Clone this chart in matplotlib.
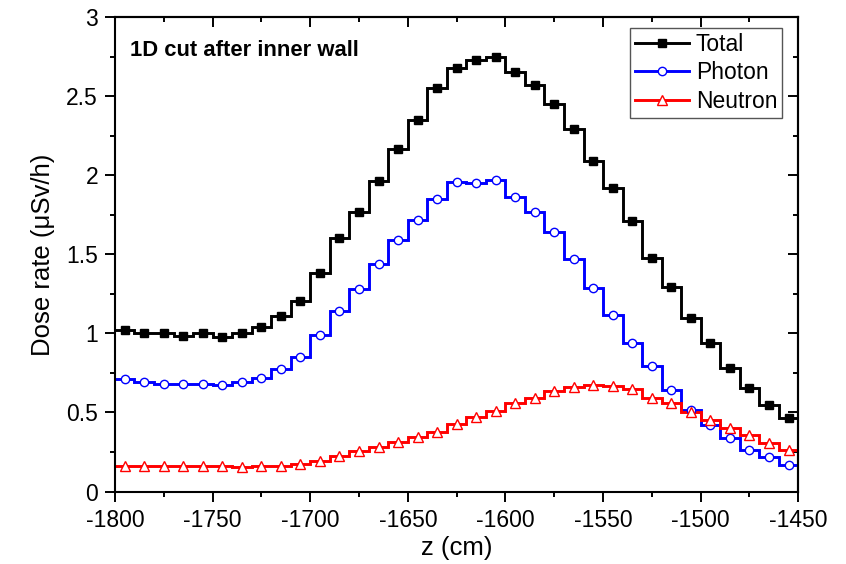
import numpy as np
import matplotlib.pyplot as plt

plt.rcParams['font.family'] = ['Liberation Sans', 'DejaVu Sans']
plt.rcParams['axes.unicode_minus'] = False

# 10 cm bins along z
edges = np.arange(-1800, -1449, 10)
centers = edges[:-1] + 5

total = [1.019, 1.000, 1.000, 0.987, 1.000, 0.977, 1.000, 1.040, 1.112, 1.205,
         1.380, 1.602, 1.767, 1.966, 2.167, 2.348, 2.553, 2.678, 2.731, 2.752,
         2.657, 2.570, 2.454, 2.293, 2.093, 1.923, 1.712, 1.479, 1.294, 1.095,
         0.941, 0.782, 0.655, 0.550, 0.465]
photon = [0.714, 0.693, 0.683, 0.683, 0.683, 0.676, 0.695, 0.719, 0.774, 0.852,
          0.993, 1.141, 1.279, 1.437, 1.592, 1.716, 1.852, 1.955, 1.953, 1.972,
          1.866, 1.767, 1.644, 1.473, 1.289, 1.116, 0.941, 0.793, 0.645, 0.518,
          0.423, 0.338, 0.260, 0.218, 0.165]
neutron = [0.160, 0.160, 0.160, 0.160, 0.160, 0.160, 0.157, 0.160, 0.160, 0.174,
           0.195, 0.222, 0.254, 0.279, 0.313, 0.342, 0.376, 0.427, 0.469, 0.507,
           0.560, 0.592, 0.638, 0.659, 0.676, 0.666, 0.649, 0.592, 0.560, 0.503,
           0.455, 0.402, 0.359, 0.306, 0.264]

series = [
    ('Total', total, 'black', dict(marker='s', mfc='black', mec='black', ms=5.5)),
    ('Photon', photon, 'blue', dict(marker='o', mfc='white', mec='blue', ms=6, mew=1)),
    ('Neutron', neutron, 'red', dict(marker='^', mfc='white', mec='red', ms=6.5, mew=1)),
]

fig = plt.figure(figsize=(8.46, 5.64), dpi=100)
ax = fig.add_axes([0.1359, 0.1285, 0.8077, 0.8408])

for name, vals, col, mk in series:
    ax.stairs(vals, edges, color=col, lw=2.1, baseline=None, zorder=2)
    ax.plot(centers, vals, ls='none', zorder=3, **mk)
    # legend proxy: line with a marker in the middle
    ax.plot([], [], color=col, lw=2.1, label=name, **mk)

xmaj = np.arange(-1800, -1449, 50)
xmin = np.arange(-1800, -1449, 25)
ymaj = [0, 0.5, 1, 1.5, 2, 2.5, 3]
ymin = np.arange(0, 3.01, 0.25)

ax.set_xlim(-1800, -1450)
ax.set_ylim(0, 3)
ax.set_xticks(xmaj)
ax.set_xticks(xmin, minor=True)
ax.set_yticks(ymaj)
ax.set_yticklabels(['0', '0.5', '1', '1.5', '2', '2.5', '3'])
ax.set_yticks(ymin, minor=True)
ax.tick_params(which='both', direction='out', width=1.4, labelsize=16.5, colors='black')
ax.tick_params(which='major', length=7.2)
ax.tick_params(which='minor', length=3.6)
ax.tick_params(axis='x', pad=5.5)
ax.tick_params(axis='y', pad=5)

# mirrored ticks on top and right point into the plot
top = ax.secondary_xaxis('top')
top.set_xticks(xmaj)
top.set_xticks(xmin, minor=True)
right = ax.secondary_yaxis('right')
right.set_yticks(ymaj)
right.set_yticks(ymin, minor=True)
for sec in (top, right):
    sec.tick_params(which='both', direction='in', width=1.4, labeltop=False,
                    labelright=False)
    sec.tick_params(which='major', length=7.2)
    sec.tick_params(which='minor', length=3.6)
    for s in sec.spines.values():
        s.set_linewidth(1.5)
for s in ax.spines.values():
    s.set_linewidth(1.5)

ax.set_xlabel('z (cm)', fontsize=18.5, labelpad=2.5)
ax.set_ylabel('Dose rate (μSv/h)', fontsize=18.5, labelpad=8)

fig.text(130 / 846, 1 - 55.7 / 564, '1D cut after inner wall',
         fontsize=15.8, fontweight='bold', va='baseline')

leg = ax.legend(loc='upper right', bbox_to_anchor=(782 / 846, 1 - 28 / 564),
                bbox_transform=fig.transFigure, fontsize=16.5,
                frameon=True, fancybox=False, edgecolor='#555555', framealpha=1,
                handlelength=2.36, handletextpad=0.3, borderpad=0.2,
                labelspacing=0.25, borderaxespad=0, numpoints=1)
leg.get_frame().set_linewidth(1.0)

fig.savefig('out.png', dpi=100)
